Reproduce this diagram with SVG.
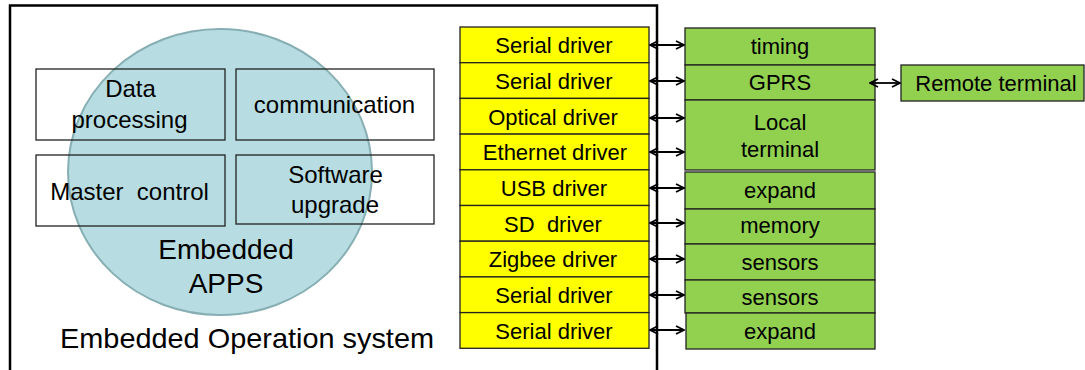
<svg xmlns="http://www.w3.org/2000/svg" width="1085" height="370" viewBox="0 0 1085 370">
<style>
text{font-family:"Liberation Sans",Arial,sans-serif;fill:#000;text-anchor:middle}
.app{fill:none;stroke:#222;stroke-width:1.3}
.t24{font-size:24px}
.t28{font-size:28px}
.t22{font-size:22px}
.ybox{fill:#ffff00;stroke:#222;stroke-width:1.3}
.gbox{fill:#92d050;stroke:#222;stroke-width:1.3}
.conn{stroke:#000;stroke-width:1.8;fill:none;marker-start:url(#ah);marker-end:url(#ah)}
</style>
<defs>
<marker id="ah" viewBox="0 0 10 10" refX="9" refY="5" markerWidth="10" markerHeight="10" markerUnits="userSpaceOnUse" orient="auto-start-reverse">
<polyline points="1,1 9,5 1,9" fill="none" stroke="#000" stroke-width="1.8"/>
</marker>
</defs>
<rect width="1085" height="370" fill="#fff"/>
<g id="os">
<rect x="10" y="5.5" width="647" height="380" fill="none" stroke="#000" stroke-width="2.5"/>
<text class="t28" x="247" y="348" textLength="374" lengthAdjust="spacingAndGlyphs">Embedded Operation system</text>
</g>
<g id="apps">
<ellipse cx="220" cy="172" rx="152" ry="143" fill="#b7dde2" stroke="#86aeb3" stroke-width="2"/>
<text class="t28" x="226" y="259">Embedded</text>
<text class="t28" x="226" y="293">APPS</text>
</g>
<g id="data-processing">
<rect class="app" x="36" y="69" width="189" height="71"/>
<text class="t24" x="130.5" y="97">Data</text>
<text class="t24" x="129.5" y="128">processing</text>
</g>
<g id="communication">
<rect class="app" x="236" y="69" width="198" height="71"/>
<text class="t24" x="334.5" y="113">communication</text>
</g>
<g id="master-control">
<rect class="app" x="36" y="155" width="189" height="71"/>
<text class="t24" x="129.5" y="200" xml:space="preserve">Master  control</text>
</g>
<g id="software-upgrade">
<rect class="app" x="236" y="155" width="198" height="69"/>
<text class="t24" x="335.5" y="183">Software</text>
<text class="t24" x="335" y="213">upgrade</text>
</g>
<g id="drv1"><rect class="ybox" x="460" y="27" width="189" height="35.7"/><text class="t22" x="554" y="53">Serial driver</text></g>
<g id="drv2"><rect class="ybox" x="460" y="62.7" width="189" height="35.7"/><text class="t22" x="554" y="88.5">Serial driver</text></g>
<g id="drv3"><rect class="ybox" x="460" y="98.4" width="189" height="35.7"/><text class="t22" x="553" y="124.5">Optical driver</text></g>
<g id="drv4"><rect class="ybox" x="460" y="134.1" width="189" height="35.7"/><text class="t22" x="555" y="160">Ethernet driver</text></g>
<g id="drv5"><rect class="ybox" x="460" y="169.8" width="189" height="35.7"/><text class="t22" x="554" y="196">USB driver</text></g>
<g id="drv6"><rect class="ybox" x="460" y="205.5" width="189" height="35.7"/><text class="t22" x="553" y="231.5" xml:space="preserve">SD  driver</text></g>
<g id="drv7"><rect class="ybox" x="460" y="241.2" width="189" height="35.7"/><text class="t22" x="553" y="267">Zigbee driver</text></g>
<g id="drv8"><rect class="ybox" x="460" y="276.9" width="189" height="35.7"/><text class="t22" x="554" y="303">Serial driver</text></g>
<g id="drv9"><rect class="ybox" x="460" y="312.6" width="189" height="35.7"/><text class="t22" x="554" y="338.5">Serial driver</text></g>
<g id="timing"><rect class="gbox" x="685" y="28" width="190" height="37"/><text class="t22" x="780" y="54">timing</text></g>
<g id="gprs"><rect class="gbox" x="685" y="65" width="190" height="35"/><text class="t22" x="780" y="90">GPRS</text></g>
<g id="local-terminal"><rect class="gbox" x="685" y="100" width="190" height="70"/><text class="t22" x="780" y="130">Local</text><text class="t22" x="780" y="157">terminal</text></g>
<g id="expand1"><rect class="gbox" x="685" y="172" width="190" height="37"/><text class="t22" x="780" y="198">expand</text></g>
<g id="memory"><rect class="gbox" x="685" y="209" width="190" height="35"/><text class="t22" x="780" y="233">memory</text></g>
<g id="sensors1"><rect class="gbox" x="685" y="244" width="190" height="36"/><text class="t22" x="780" y="270">sensors</text></g>
<g id="sensors2"><rect class="gbox" x="685" y="280" width="190" height="33"/><text class="t22" x="780" y="305">sensors</text></g>
<g id="expand2"><rect class="gbox" x="686" y="313" width="189" height="36"/><text class="t22" x="780" y="339">expand</text></g>
<g id="remote-terminal"><rect class="gbox" x="901" y="65" width="183" height="36"/><text class="t22" x="996" y="91">Remote terminal</text></g>
<g id="connectors">
<line class="conn" x1="650" y1="45" x2="684" y2="45"/>
<line class="conn" x1="650" y1="81" x2="684" y2="81"/>
<line class="conn" x1="650" y1="118" x2="684" y2="118"/>
<line class="conn" x1="650" y1="152" x2="684" y2="152"/>
<line class="conn" x1="650" y1="188" x2="684" y2="188"/>
<line class="conn" x1="650" y1="223" x2="684" y2="223"/>
<line class="conn" x1="650" y1="259" x2="684" y2="259"/>
<line class="conn" x1="650" y1="295" x2="684" y2="295"/>
<line class="conn" x1="650" y1="330" x2="684" y2="330"/>
<line class="conn" x1="870" y1="83" x2="900" y2="83"/>
</g>
</svg>
